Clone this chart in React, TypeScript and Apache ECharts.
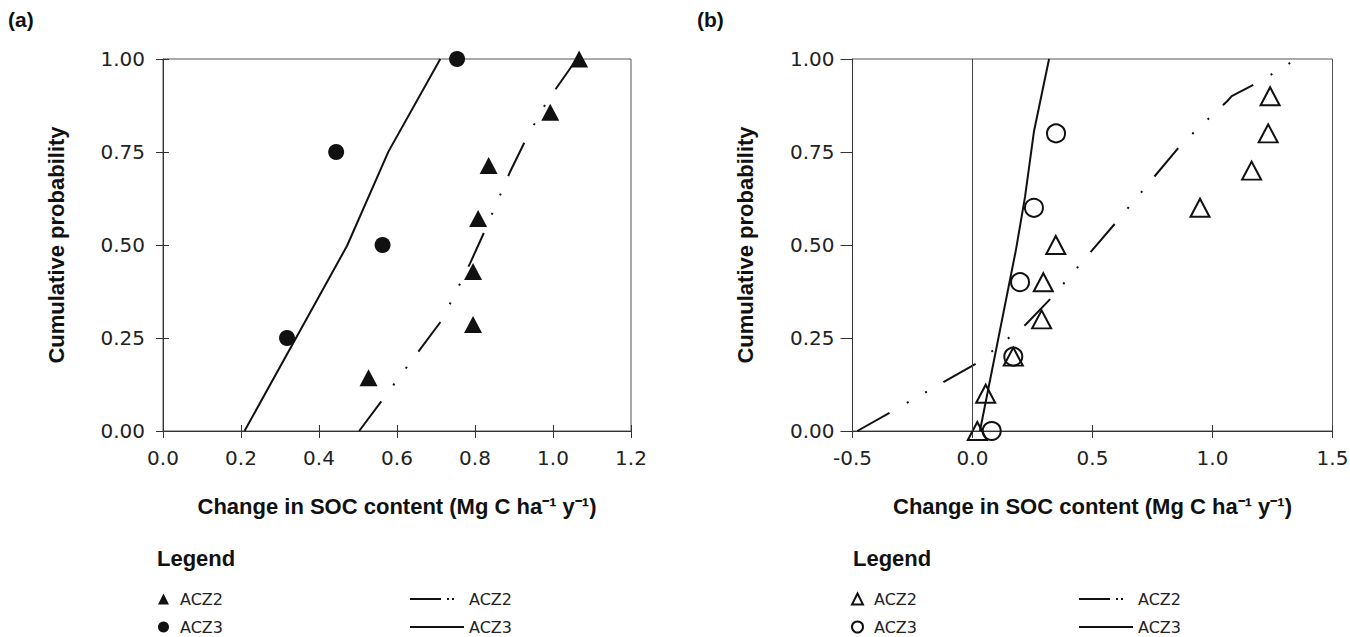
import React, { useEffect, useRef } from 'react';
import * as echarts from 'echarts';

// Tick values and labels
const yTicks = [0, 0.25, 0.5, 0.75, 1];
const yTickLabels = ['0.00', '0.25', '0.50', '0.75', '1.00'];
const xTicksA = [0, 0.2, 0.4, 0.6, 0.8, 1.0, 1.2];
const xTickLabelsA = ['0.0', '0.2', '0.4', '0.6', '0.8', '1.0', '1.2'];
const xTicksB = [-0.5, 0, 0.5, 1, 1.5];
const xTickLabelsB = ['-0.5', '0.0', '0.5', '1.0', '1.5'];

// Panel (a): observed points
const aTriX = [0.527, 0.795, 0.795, 0.808, 0.835, 0.993, 1.067];
const aTriY = [0.143, 0.286, 0.429, 0.571, 0.714, 0.857, 1.0];
const aCirX = [0.318, 0.563, 0.444, 0.754];
const aCirY = [0.25, 0.5, 0.75, 1.0];
// Panel (a): fitted distributions
const aFit2X = [0.503, 0.715, 0.787, 0.826, 0.89, 0.932, 0.984, 1.061];
const aFit2Y = [0, 0.298, 0.45, 0.54, 0.697, 0.787, 0.885, 1.0];
const aFit3X = [0.209, 0.472, 0.578, 0.711];
const aFit3Y = [0, 0.498, 0.751, 1.0];

// Panel (b): observed points
const bTriX = [0.02, 0.055, 0.17, 0.288, 0.295, 0.347, 0.948, 1.163, 1.232, 1.24];
const bTriY = [0, 0.1, 0.2, 0.3, 0.4, 0.5, 0.6, 0.7, 0.8, 0.9];
const bCirX = [0.08, 0.17, 0.198, 0.256, 0.348];
const bCirY = [0, 0.2, 0.4, 0.6, 0.8];
// Panel (b): fitted distributions
const bFit2X = [-0.48, 0.018, 0.223, 0.33, 0.601, 0.872, 1.062, 1.08, 1.195, 1.35];
const bFit2Y = [0, 0.182, 0.287, 0.359, 0.563, 0.772, 0.887, 0.9, 0.939, 1.0];
const bFit3X = [0.031, 0.181, 0.219, 0.256, 0.319];
const bFit3Y = [0, 0.487, 0.63, 0.805, 1.0];

const zip = (xs: number[], ys: number[]) => xs.map((x, i) => [x, ys[i]]);
const fmt = (ticks: number[], labels: string[]) => (v: number) => {
  const i = ticks.findIndex((t) => Math.abs(t - v) < 1e-6);
  return i >= 0 ? labels[i] : '';
};

const INK = '#111';
const AXIS = '#333';
const TICK_FONT = 'DejaVu Sans';
const BOLD_FONT = 'Liberation Sans';
const X_TITLE = 'Change in SOC content (Mg C ha⁻¹ y⁻¹)';
const Y_TITLE = 'Cumulative probability';
const DASH_DOT_DOT = [37, 20, 2, 19, 2, 19];
const LEGEND_DASH = [31, 6, 2, 3, 2, 100];

function xMain(gridIndex: number, min: number, max: number, interval: number, ticks: number[], labels: string[]) {
  return {
    gridIndex, type: 'value', position: 'bottom', min, max, interval,
    axisLine: { show: true, onZero: false, lineStyle: { color: AXIS, width: 1 } },
    axisTick: { show: true, inside: false, length: 7, lineStyle: { color: AXIS, width: 1 } },
    axisLabel: { show: true, margin: 17, fontFamily: TICK_FONT, fontSize: 20, color: '#222', formatter: fmt(ticks, labels) },
    splitLine: { show: false },
    name: X_TITLE, nameLocation: 'middle', nameGap: 64,
    nameTextStyle: { fontFamily: BOLD_FONT, fontWeight: 'bold', fontSize: 22, color: INK },
  };
}
function xInner(gridIndex: number, min: number, max: number, interval: number) {
  return {
    gridIndex, type: 'value', position: 'bottom', min, max, interval,
    axisLine: { show: false, onZero: false },
    axisTick: { show: true, inside: true, length: 6, lineStyle: { color: AXIS, width: 1 } },
    axisLabel: { show: false }, splitLine: { show: false },
  };
}
function yMain(gridIndex: number, tickLen: number) {
  return {
    gridIndex, type: 'value', position: 'left', min: 0, max: 1, interval: 0.25,
    axisLine: { show: true, onZero: false, lineStyle: { color: AXIS, width: 1 } },
    axisTick: { show: true, inside: false, length: tickLen, lineStyle: { color: AXIS, width: 1 } },
    axisLabel: { show: true, margin: 18, fontFamily: TICK_FONT, fontSize: 20, color: '#222', formatter: fmt(yTicks, yTickLabels) },
    splitLine: { show: false },
    name: Y_TITLE, nameLocation: 'middle', nameGap: 96, nameRotate: 90,
    nameTextStyle: { fontFamily: BOLD_FONT, fontWeight: 'bold', fontSize: 22, color: INK },
  };
}
function yInner(gridIndex: number) {
  return {
    gridIndex, type: 'value', position: 'left', min: 0, max: 1, interval: 0.25,
    axisLine: { show: false, onZero: false },
    axisTick: { show: true, inside: true, length: 6, lineStyle: { color: AXIS, width: 1 } },
    axisLabel: { show: false }, splitLine: { show: false },
  };
}

const legendText = { fontFamily: TICK_FONT, fontSize: 16, color: '#222' };
const shortName = (n: string) => n.split(' ')[0];

function pointLegend(name: string, left: number, top: number) {
  return {
    left, top, padding: 0, orient: 'vertical', selectedMode: false,
    itemWidth: 11, itemHeight: 11, itemGap: 0, symbolKeepAspect: true,
    data: [{ name }], formatter: shortName,
    textStyle: { ...legendText, padding: [0, 0, 0, 6] },
  };
}
function lineLegend(name: string, left: number, top: number, dash: number[] | 'solid') {
  return {
    left, top, padding: 0, orient: 'vertical', selectedMode: false,
    itemWidth: 54, itemHeight: 11, itemGap: 0,
    data: [{ name }], formatter: shortName, textStyle: legendText,
    itemStyle: { color: 'rgba(0,0,0,0)', borderColor: 'rgba(0,0,0,0)', borderWidth: 0 },
    lineStyle: { type: dash, width: 2, color: INK, cap: 'butt' },
  };
}

export default function App() {
  const ref = useRef<HTMLDivElement>(null);
  useEffect(() => {
    if (!ref.current) return;
    const chart = echarts.init(ref.current, undefined, { renderer: 'svg' });
    const grids = [
      { left: 163, top: 59, width: 468, height: 372 },
      { left: 852.5, top: 59, width: 480, height: 372 },
    ].map((g) => ({ ...g, show: true, borderColor: '#555', borderWidth: 1, backgroundColor: 'transparent', containLabel: false, outerBoundsMode: 'none' }));

    const solidPoint = { color: INK, opacity: 1 };
    const openPoint = { color: 'rgba(255,255,255,0)', borderColor: INK, borderWidth: 2, opacity: 1 };

    const option: any = {
      animation: false,
      backgroundColor: '#fff',
      title: [
        { text: '(a)', left: 8, top: 9, padding: 0, textStyle: { fontFamily: BOLD_FONT, fontWeight: 'bold', fontSize: 21, color: INK } },
        { text: '(b)', left: 697, top: 9, padding: 0, textStyle: { fontFamily: BOLD_FONT, fontWeight: 'bold', fontSize: 21, color: INK } },
        { text: 'Legend', left: 157, top: 547, padding: 0, textStyle: { fontFamily: BOLD_FONT, fontWeight: 'bold', fontSize: 22, color: INK } },
        { text: 'Legend', left: 853, top: 547, padding: 0, textStyle: { fontFamily: BOLD_FONT, fontWeight: 'bold', fontSize: 22, color: INK } },
      ],
      grid: grids,
      xAxis: [
        xMain(0, 0, 1.2, 0.2, xTicksA, xTickLabelsA),
        xInner(0, 0, 1.2, 0.2),
        xMain(1, -0.5, 1.5, 0.5, xTicksB, xTickLabelsB),
        xInner(1, -0.5, 1.5, 0.5),
      ],
      yAxis: [yMain(0, 7), yInner(0), yMain(1, 12)],
      legend: [
        pointLegend('ACZ2 a-points', 158, 591),
        pointLegend('ACZ3 a-points', 158, 619),
        lineLegend('ACZ2 a-fit', 409, 591, LEGEND_DASH),
        lineLegend('ACZ3 a-fit', 409, 619, 'solid'),
        pointLegend('ACZ2 b-points', 851, 591),
        pointLegend('ACZ3 b-points', 851, 619),
        lineLegend('ACZ2 b-fit', 1078, 591, LEGEND_DASH),
        lineLegend('ACZ3 b-fit', 1078, 619, 'solid'),
      ],
      series: [
        {
          name: 'ACZ2 a-fit', type: 'line', xAxisIndex: 0, yAxisIndex: 0, z: 2,
          data: zip(aFit2X, aFit2Y), symbol: 'none', showSymbol: false,
          itemStyle: { color: INK },
          lineStyle: { color: INK, width: 2, type: DASH_DOT_DOT, cap: 'butt' },
        },
        {
          name: 'ACZ3 a-fit', type: 'line', xAxisIndex: 0, yAxisIndex: 0, z: 2,
          data: zip(aFit3X, aFit3Y), symbol: 'none', showSymbol: false,
          itemStyle: { color: INK },
          lineStyle: { color: INK, width: 2, type: 'solid' },
        },
        {
          name: 'ACZ2 a-points', type: 'scatter', xAxisIndex: 0, yAxisIndex: 0, z: 3,
          data: zip(aTriX, aTriY), symbol: 'triangle', symbolSize: [18, 17],
          itemStyle: solidPoint,
        },
        {
          name: 'ACZ3 a-points', type: 'scatter', xAxisIndex: 0, yAxisIndex: 0, z: 3,
          data: zip(aCirX, aCirY), symbol: 'circle', symbolSize: 16,
          itemStyle: solidPoint,
        },
        {
          name: 'ACZ2 b-fit', type: 'line', xAxisIndex: 2, yAxisIndex: 2, z: 2,
          data: zip(bFit2X, bFit2Y), symbol: 'none', showSymbol: false,
          itemStyle: { color: INK },
          lineStyle: { color: INK, width: 2, type: DASH_DOT_DOT, cap: 'butt' },
        },
        {
          name: 'ACZ3 b-fit', type: 'line', xAxisIndex: 2, yAxisIndex: 2, z: 2,
          data: zip(bFit3X, bFit3Y), symbol: 'none', showSymbol: false,
          itemStyle: { color: INK },
          lineStyle: { color: INK, width: 2, type: 'solid' },
          markLine: {
            silent: true, symbol: ['none', 'none'], label: { show: false },
            lineStyle: { color: '#444', width: 1, type: 'solid' },
            data: [{ xAxis: 0 }],
          },
        },
        {
          name: 'ACZ2 b-points', type: 'scatter', xAxisIndex: 2, yAxisIndex: 2, z: 3,
          data: zip(bTriX, bTriY), symbol: 'triangle', symbolSize: [19, 18],
          itemStyle: openPoint,
        },
        {
          name: 'ACZ3 b-points', type: 'scatter', xAxisIndex: 2, yAxisIndex: 2, z: 3,
          data: zip(bCirX, bCirY), symbol: 'circle', symbolSize: 18,
          itemStyle: openPoint,
        },
      ],
    };
    chart.setOption(option);
    return () => chart.dispose();
  }, []);
  return <div ref={ref} style={{ position: 'absolute', left: 0, top: 0, width: 1350, height: 637 }} />;
}
